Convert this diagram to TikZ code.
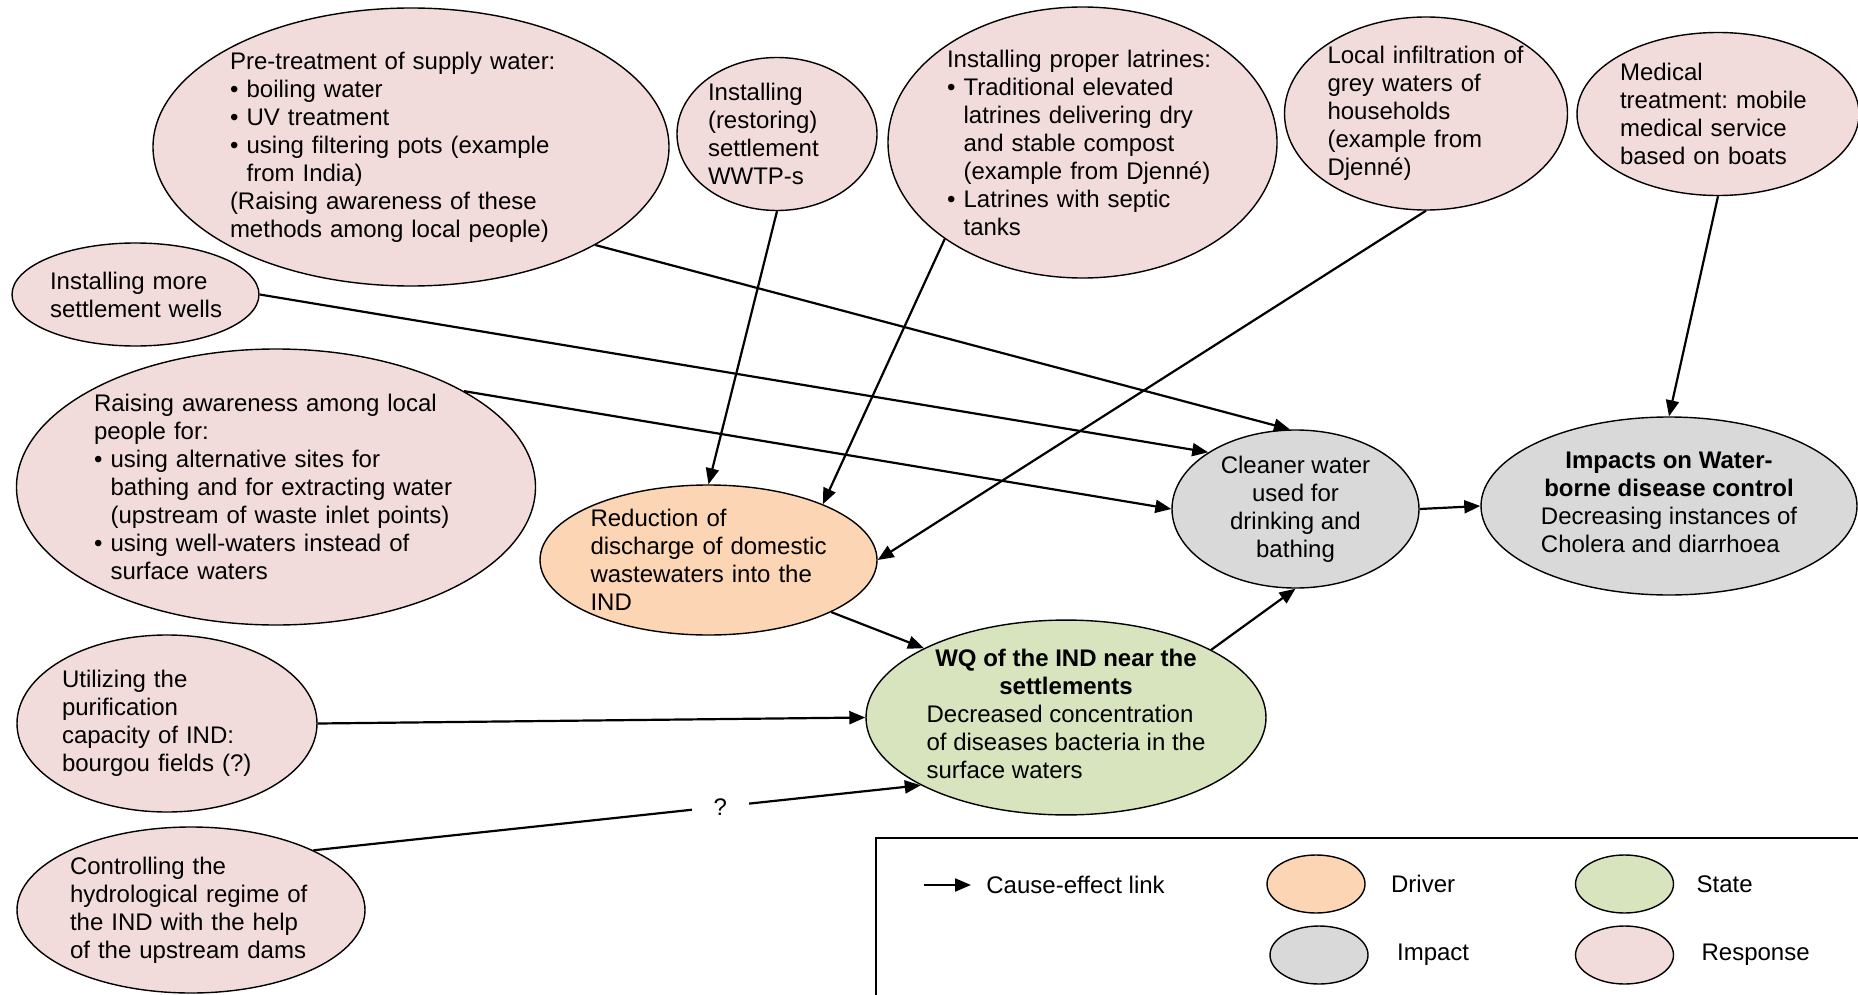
\documentclass[tikz,border=0pt]{standalone}
\usepackage{fontspec}
\setmainfont{Liberation Sans}
\usetikzlibrary{arrows.meta,positioning,shapes.geometric}
\definecolor{RespPink}{HTML}{F2DCDB}
\definecolor{DrvPeach}{HTML}{FCD5B5}
\definecolor{StateGreen}{HTML}{D7E4BD}
\definecolor{ImpGrey}{HTML}{D9D9D9}
\newcommand{\bul}{\makebox[8.3pt][l]{\textbullet}}
\newcommand{\ind}{\hspace*{8.3pt}}
\frenchspacing

\begin{document}
\begin{tikzpicture}[x=.5pt,y=-.5pt,font=\fontsize{12}{14}\selectfont,
    ell/.style={ellipse,draw,line width=.7pt,inner sep=0pt,align=left},
    esize/.style 2 args={minimum width=#1*.5pt,minimum height=#2*.5pt},
    resp/.style={ell,fill=RespPink},
    drv/.style={ell,fill=DrvPeach},
    state/.style={ell,fill=StateGreen},
    imp/.style={ell,fill=ImpGrey},
    arr/.style={-{Triangle[length=8pt,width=6.5pt]},line width=1.1pt},
    qmark/.style={fill=white,inner xsep=11pt,inner ysep=1pt},
    keytext/.style={inner sep=0pt}]
  \useasboundingbox (0,0) rectangle (1858,995);

  % responses
  \node[resp,esize={516}{278},text width=181pt] (pretreat) at (411,147)
    {Pre-treatment of supply water:\\ \bul boiling water\\ \bul UV treatment\\
     \bul using filtering pots (example\\ \ind from India)\\
     (Raising awareness of these\\ methods among local people)};
  \node[resp,esize={200}{153},text width=69pt] (wwtp) at (777,134)
    {Installing\\(restoring)\\settlement\\WWTP-s};
  \node[resp,esize={389}{271},text width=135.5pt] (latrine) at (1082.5,142.5)
    {Installing proper latrines:\\ \bul Traditional elevated\\ \ind latrines delivering dry\\
     \ind and stable compost\\ \ind (example from Djenné)\\ \bul Latrines with septic\\ \ind tanks};
  \node[resp,esize={283}{193},text width=98.5pt] (infil) at (1426,113.5)
    {Local infiltration of\\grey waters of\\households\\(example from\\Djenné)};
  \node[resp,esize={282}{163},text width=98pt] (medic) at (1718,114)
    {Medical\\treatment: mobile\\medical service\\based on boats};
  \node[resp,esize={247}{103},text width=85.5pt] (wells) at (135.5,294.5)
    {Installing more\\\mbox{settlement wells}};
  \node[resp,esize={519}{276},text width=182pt] (aware) at (276,487)
    {Raising awareness among local\\people for:\\ \bul using alternative sites for\\
     \ind bathing and for extracting water\\ \ind (upstream of waste inlet points)\\
     \bul using well-waters instead of\\ \ind surface waters};
  \node[resp,esize={300}{177},text width=105pt] (utilize) at (167,723.5)
    {Utilizing the\\purification\\capacity of IND:\\bourgou fields (?)};
  \node[resp,esize={348}{166},text width=121pt] (control) at (191,910)
    {Controlling the\\hydrological regime of\\the IND with the help\\of the upstream dams};

  % driver, state, impacts
  \node[drv,esize={337}{150},text width=118pt] (reduce) at (708.5,560)
    {Reduction of\\\mbox{discharge of domestic}\\\mbox{wastewaters into the}\\IND};
  \node[imp,esize={247}{158},align=center] (clean) at (1295.5,509)
    {Cleaner water\\used for\\drinking and\\bathing};
  \node[state,esize={400}{191},align=center] (wq) at (1066,717.5)
    {\textbf{WQ of the IND near the}\\\textbf{settlements}\\
     \begin{tabular}[t]{@{}l@{}}Decreased concentration\\of diseases bacteria in the\\surface waters\end{tabular}};
  \node[imp,esize={376}{178},align=center] (impact) at (1669,506)
    {\textbf{Impacts on Water-}\\\textbf{borne disease control}\\
     \begin{tabular}[t]{@{}l@{}}Decreasing instances of\\Cholera and diarrhoea\end{tabular}};

  % cause-effect links
  \draw[arr] (pretreat.-28.5) -- (clean.94);
  \draw[arr] (wells.0) -- (clean.147.7);
  \draw[arr] (aware.27.7) -- (clean.180);
  \draw[arr] (wwtp.-90) -- (reduce.90);
  \draw[arr] (latrine.215) -- (reduce.26);
  \draw[arr] (infil.-90) -- (reduce.0);
  \draw[arr] (medic.-90) -- (impact.90);
  \draw[arr] (clean.0) -- (impact.180);
  \draw[arr] (reduce.-23.8) -- (wq.154.7);
  \draw[arr] (wq.25.6) -- (clean.-90);
  \draw[arr] (utilize.0) -- (wq.180);
  \draw[arr] (control.26) -- node[qmark,pos=.67] (qm) {?} (wq.205.7);

  % legend
  \draw[line width=.8pt] (876,838) rectangle (1866,1002);
  \coordinate (kastart) at (923.5,885);
  \coordinate (kaend) at (971,885);
  \draw[arr] (kastart) -- (kaend);
  \node[keytext,right=7.5pt of kaend] (tlink) {Cause-effect link};
  \node[drv,esize={98}{58}] (kdrv) at (1316,884) {};
  \node[keytext,right=12.5pt of kdrv] (tdrv) {Driver};
  \node[imp,esize={98}{58}] (kimp) at (1319,955) {};
  \node[keytext,right=14pt of kimp] (timp) {Impact};
  \node[state,esize={98}{58}] (kstate) at (1624.5,884) {};
  \node[keytext,right=11pt of kstate] (tstate) {State};
  \node[resp,esize={98}{58}] (kresp) at (1624.5,955) {};
  \node[keytext,right=13.5pt of kresp] (tresp) {Response};
\end{tikzpicture}
\end{document}
